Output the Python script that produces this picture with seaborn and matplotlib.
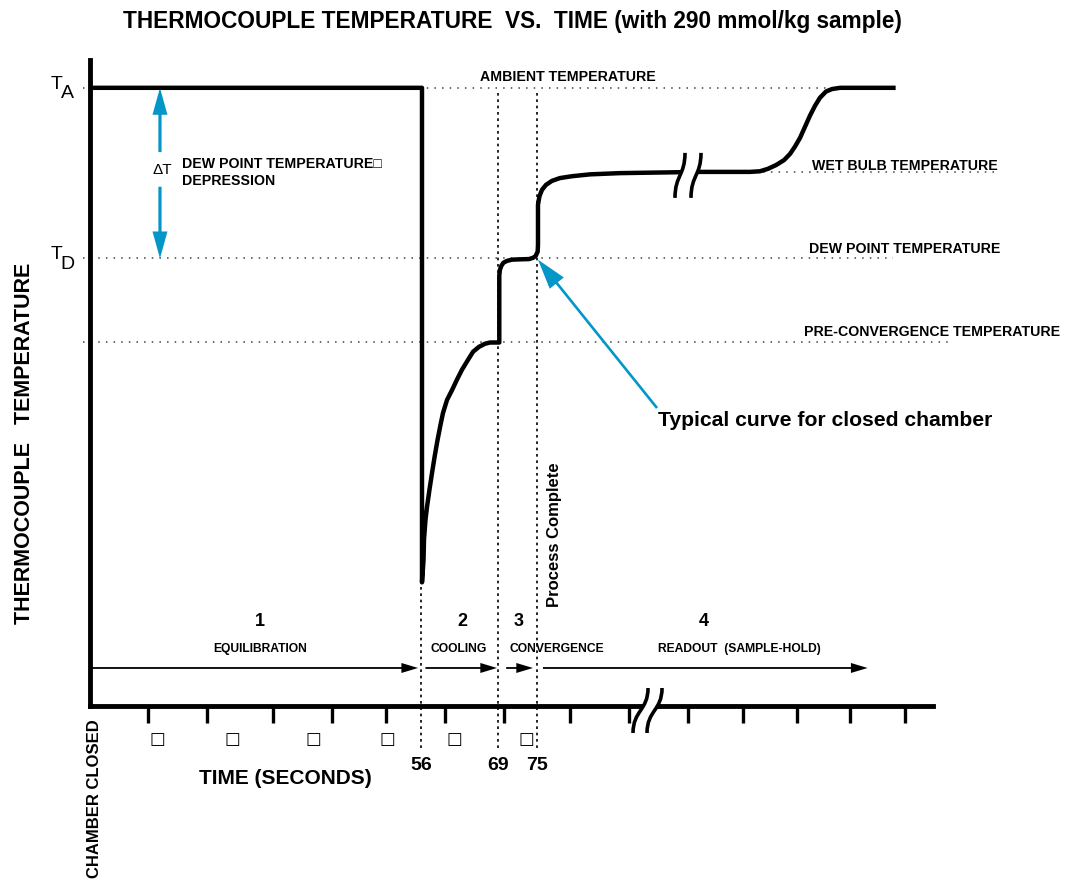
import numpy as np
import matplotlib
matplotlib.use("Agg")
import matplotlib.pyplot as plt
from matplotlib import transforms
from matplotlib.path import Path
from matplotlib.patches import PathPatch, FancyArrowPatch, ArrowStyle
import seaborn as sns

# ---------------------------------------------------------------- data
# temperatures on a relative scale: 0 = time axis, 100 = ambient
T_AMBIENT = 100.0
T_WET_BULB = 86.4
T_DEW = 72.4
T_PRECONV = 58.9

# phase boundaries (s) and phase labels
PHASE_BOUNDARIES = [56, 69, 75]
PHASE_NUMBERS = ["1", "2", "3", "4"]
PHASE_NAMES = ["EQUILIBRATION", "COOLING", "CONVERGENCE", "READOUT  (SAMPLE-HOLD)"]
READOUT_END = 133.2

TICK_SECONDS = [10, 20, 30, 40, 50, 60, 70, 80, 90, 100, 110, 120, 130, 140]

# thermocouple temperature trace (time in s, relative temperature)
CURVE_TIME = [
    0, 56.1, 56.1,
    56.36, 56.44, 56.69, 56.95, 57.37, 57.80, 58.27, 58.73, 59.24, 59.66,
    60.34, 61.19, 62.03, 62.88, 63.90, 64.75, 65.76, 66.78, 67.63, 69.2,
    69.2, 69.3, 69.55, 69.9, 70.45, 71.2, 72.3, 73.8, 74.4, 74.8, 75.1, 75.15,
    75.15, 75.38, 75.76, 76.36, 77.27, 78.48, 80.34, 83.39, 88.47, 95.25,
    102.2, 111.3, 113.15, 114.63, 116.11, 117.59, 118.70, 119.63, 120.57,
    121.51, 122.45, 123.40, 124.34, 125.47, 126.60, 128.11, 138.3,
]
CURVE_TEMP = [
    100, 100, 20.0,
    23.6, 26.9, 30.1, 32.2, 35.0, 37.7, 40.5, 43.0, 45.5, 47.4,
    49.5, 51.1, 52.8, 54.4, 56.0, 57.3, 58.1, 58.6, 58.8, 58.8,
    69.6, 70.55, 71.2, 71.7, 72.0, 72.2, 72.25, 72.3, 72.5, 72.8, 73.5, 74.6,
    81.1, 82.5, 83.5, 84.3, 84.95, 85.4, 85.7, 86.0, 86.2, 86.3,
    86.4, 86.4, 86.5, 86.9, 87.5, 88.3, 89.3, 90.5, 91.9,
    93.7, 95.5, 97.1, 98.4, 99.4, 99.8, 100, 100,
]

BLUE = "#0596c8"

# ---------------------------------------------------------------- figure
W, H = 1070, 881
sns.set_theme(style="white")
plt.rcParams["font.family"] = ["Liberation Sans", "DejaVu Sans"]
plt.rcParams["text.color"] = "black"

fig = plt.figure(figsize=(W / 100, H / 100), dpi=100)
ax = fig.add_axes([90 / W, 1 - 706 / H, (933 - 90) / W, (706 - 60) / H])

sns.lineplot(x=CURVE_TIME, y=CURVE_TEMP, sort=False, estimator=None,
             color="black", lw=3.2, ax=ax, zorder=4,
             solid_joinstyle="round", solid_capstyle="butt")

# hand-drawn time axis: tick spacing is not uniform, map seconds piecewise
AX_S = np.array([-100, 0, 10, 20, 30, 40, 50, 60, 70, 80, 90, 100, 110, 120, 130, 140, 300])
AX_P = np.array([-590, 0, 58, 117, 183, 242, 296, 355, 414, 480, 539, 598, 653, 707, 760, 815, 1695])


def fwd(t):
    return np.interp(t, AX_S, AX_P)


def inv(p):
    return np.interp(p, AX_P, AX_S)


ax.set_xscale("function", functions=(fwd, inv))
ax.set_xlim(0, float(inv(843)))
ax.set_ylim(0, 104.5)
ax.set_xlabel("")
ax.set_ylabel("")
ax.grid(False)

sns.despine(ax=ax)
for side in ("left", "bottom"):
    ax.spines[side].set_linewidth(3.5)
    ax.spines[side].set_color("black")
ax.set_xticks(TICK_SECONDS)
ax.set_yticks([])
ax.tick_params(axis="x", which="major", bottom=True, direction="out", length=12,
               width=2.4, color="black", labelbottom=False)
ax.tick_params(axis="x", which="minor", bottom=False)

# reference levels
dot = dict(colors="#444444", linestyles=(0, (1, 4)), lw=1.1, clip_on=False, zorder=2)
ax.hlines(T_AMBIENT, -1.2, 139.1, **dot)
ax.hlines(T_WET_BULB, 111.0, 156.5, **dot)
ax.hlines(T_DEW, -1.2, 137.8, **dot)
ax.hlines(T_PRECONV, -1.2, 148.2, **dot)

vdot = dict(colors="black", linestyles=(0, (1.6, 2.2)), lw=1.2, clip_on=False, zorder=2)
ax.vlines(PHASE_BOUNDARIES[0], -6.8, 19.9, **vdot)
ax.vlines(PHASE_BOUNDARIES[1:], -6.8, 99.7, **vdot)

# phase arrows
ARROW_Y = 6.15
phase_starts = [0] + PHASE_BOUNDARIES
phase_ends = PHASE_BOUNDARIES + [READOUT_END]
shrink_a = [0, 2.9, 5.8, 4.3]
shrink_b = [2.4, 0.8, 2.9, 0]
black_head = ArrowStyle.Simple(head_length=12, head_width=7.2, tail_width=1.3)
for a, b, sa, sb in zip(phase_starts, phase_ends, shrink_a, shrink_b):
    ax.add_patch(FancyArrowPatch((a, ARROW_Y), (b, ARROW_Y), arrowstyle=black_head,
                                 mutation_scale=1, color="black", lw=0,
                                 shrinkA=sa, shrinkB=sb, clip_on=False, zorder=3))

# dew point depression arrows
blue_head = ArrowStyle.Simple(head_length=19.4, head_width=10.8, tail_width=2.3)
DT_X = 12.03
ax.add_patch(FancyArrowPatch((DT_X, 89.6), (DT_X, T_AMBIENT), arrowstyle=blue_head,
                             mutation_scale=1, color=BLUE, lw=0, shrinkA=0, shrinkB=0,
                             clip_on=False, zorder=3))
ax.add_patch(FancyArrowPatch((DT_X, 84.0), (DT_X, T_DEW), arrowstyle=blue_head,
                             mutation_scale=1, color=BLUE, lw=0, shrinkA=0, shrinkB=0,
                             clip_on=False, zorder=3))

# pointer to the end of convergence
ptr_head = ArrowStyle.Simple(head_length=21.6, head_width=13, tail_width=1.9)
ax.add_patch(FancyArrowPatch((94.75, 48.2), (75.15, T_DEW - 0.2), arrowstyle=ptr_head,
                             mutation_scale=1, color=BLUE, lw=0, shrinkA=0, shrinkB=0,
                             clip_on=False, zorder=6))


# break symbols
def break_mark(t, temp, dy, w, h, gap):
    tr = transforms.Affine2D().scale(fig.dpi / 100) + \
        transforms.ScaledTranslation(t, temp, ax.transData)

    def s_curve(cx):
        return [(cx - w, dy - h), (cx - w, dy), (cx + w, dy), (cx + w, dy + h)]

    m1 = s_curve(-gap / 2)
    m2 = s_curve(gap / 2)
    band = Path(m1 + m2[::-1] + [m1[0]],
                [Path.MOVETO, Path.CURVE4, Path.CURVE4, Path.CURVE4,
                 Path.LINETO, Path.CURVE4, Path.CURVE4, Path.CURVE4, Path.CLOSEPOLY])
    ax.add_patch(PathPatch(band, transform=tr, facecolor="white", edgecolor="none",
                           clip_on=False, zorder=5))
    for m in (m1, m2):
        p = Path(m, [Path.MOVETO, Path.CURVE4, Path.CURVE4, Path.CURVE4])
        ax.add_patch(PathPatch(p, transform=tr, facecolor="none", edgecolor="black",
                               lw=2.6, capstyle="butt", clip_on=False, zorder=6))


break_mark(93.14, 0, -4.5, 7.5, 22.5, 14)
break_mark(100.0, T_WET_BULB, -3.5, 5.0, 22.5, 16)

# ---------------------------------------------------------------- text
PX = 100 / 72


def put(xp, yc, s, size, ha="left", bold=True, rot=0, color="black", family=None):
    cap = 0.716 * size * PX
    kw = dict(fontsize=size, fontweight="bold" if bold else "normal", color=color,
              va="baseline", ha=ha)
    if family:
        kw["family"] = family
    if rot == 0:
        fig.text(xp / W, 1 - (yc + cap / 2) / H, s, **kw)
    else:
        fig.text((xp + cap / 2) / W, 1 - yc / H, s, rotation=90,
                 rotation_mode="anchor", **kw)


put(512, 20, "THERMOCOUPLE TEMPERATURE  VS.  TIME (with 290 mmol/kg sample)", 16.3, ha="center")
put(22, 443, "THERMOCOUPLE   TEMPERATURE", 15.5, ha="center", rot=90)
put(93, 799, "CHAMBER CLOSED", 12, ha="center", rot=90)
put(285, 777, "TIME (SECONDS)", 15, ha="center")

put(56.5, 82, "T", 14, ha="center", bold=False)
put(67, 91.5, "A", 14, ha="center", bold=False)
put(56.5, 252, "T", 14, ha="center", bold=False)
put(67.5, 262, "D", 14, ha="center", bold=False)

put(480, 76, "AMBIENT TEMPERATURE", 10.2)
put(812, 165, "WET BULB TEMPERATURE", 10.2)
put(809, 248, "DEW POINT TEMPERATURE", 10.2)
put(804, 331, "PRE-CONVERGENCE TEMPERATURE", 10.2)

put(162, 169, "ΔT", 11, ha="center", bold=False)
put(182, 163, "DEW POINT TEMPERATURE\u25a1", 10.2)
put(182, 180, "DEPRESSION", 10.2)

put(658, 418, "Typical curve for closed chamber", 15.2)
put(553, 535, "Process Complete", 12, ha="center", rot=90)

for xp, s in zip([260, 462, 519, 704], PHASE_NUMBERS):
    put(xp, 620, s, 13, ha="center")
for xp, s in zip([260, 459, 557, 739], PHASE_NAMES):
    put(xp, 648, s, 8.7, ha="center")

for xp in [157, 232, 313, 387, 454, 526]:
    put(xp, 738, "\u25a1", 12, ha="center", bold=False, family=["DejaVu Sans"])

blend = transforms.blended_transform_factory(ax.transData, fig.transFigure)
cap14 = 0.716 * 14 * PX
for b in PHASE_BOUNDARIES:
    ax.text(b, 1 - (763 + cap14 / 2) / H, str(b), transform=blend, ha="center",
            va="baseline", fontsize=14, fontweight="bold", color="black", clip_on=False)

fig.savefig("out.png", dpi=100, facecolor="white")
